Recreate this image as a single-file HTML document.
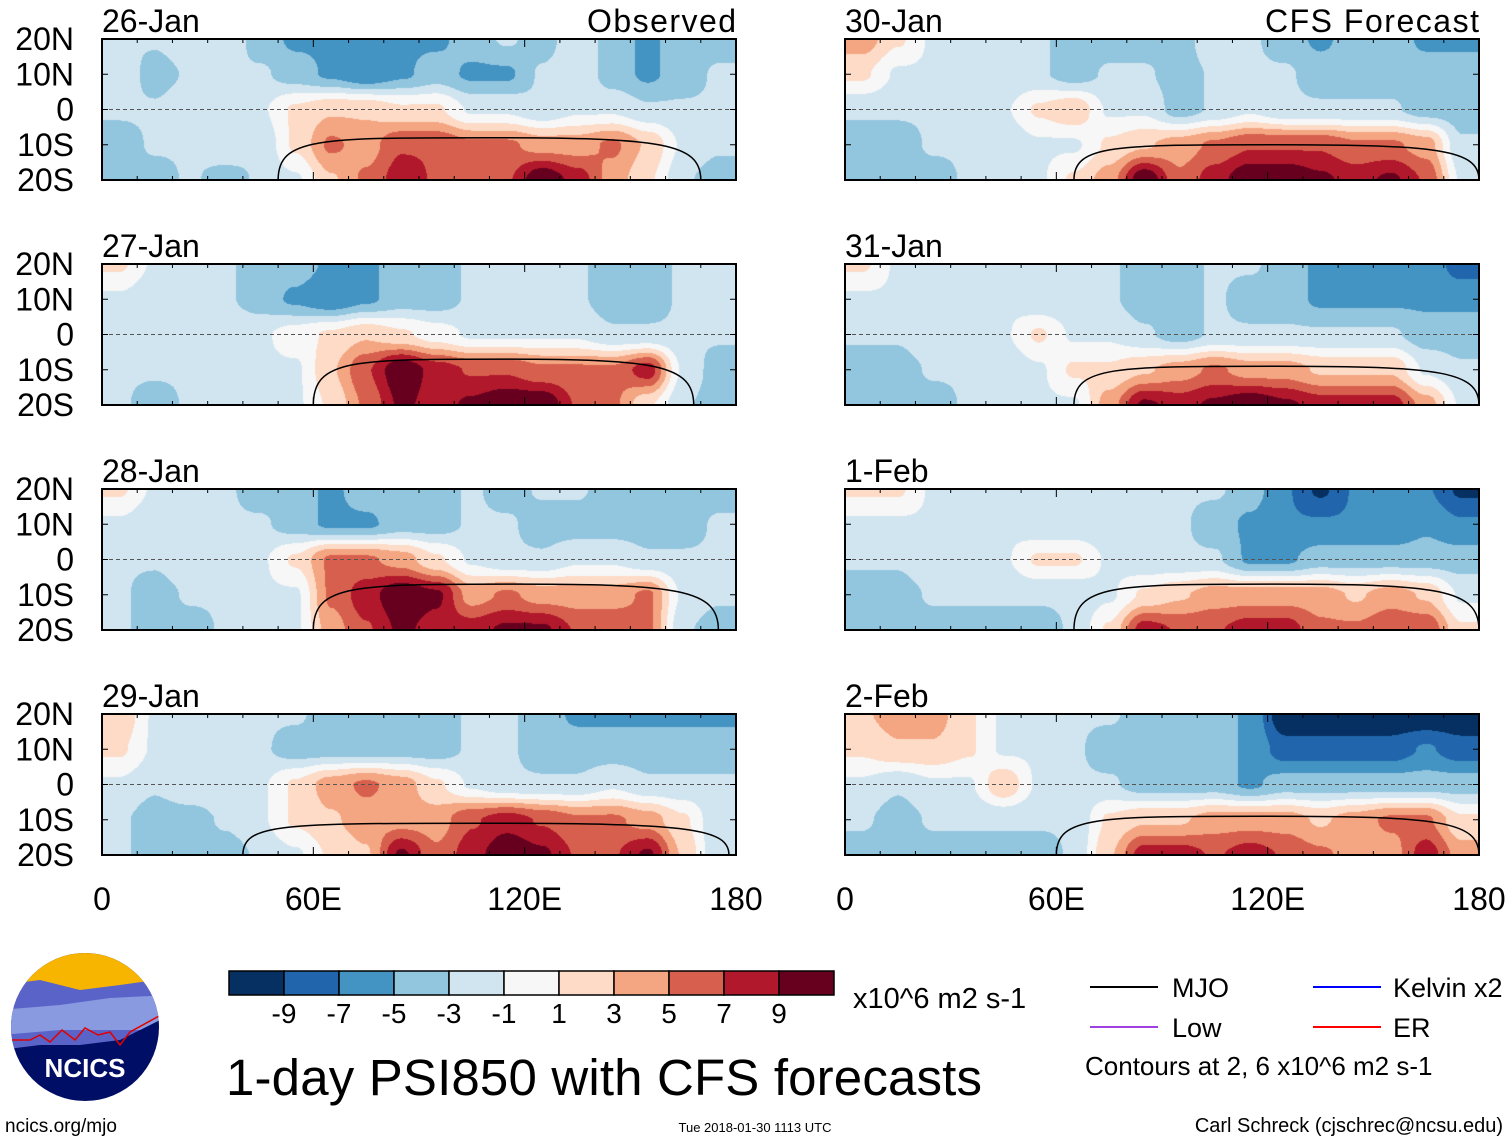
<!DOCTYPE html>
<html><head><meta charset="utf-8">
<style>
html,body{margin:0;padding:0;background:#fff;}
#wrap{position:relative;width:1510px;height:1142px;overflow:hidden;font-family:"Liberation Sans",sans-serif;}
canvas{position:absolute;}
svg{position:absolute;left:0;top:0;}
</style></head>
<body>
<div id="wrap">
<svg id="svg" width="1510" height="1142" xmlns="http://www.w3.org/2000/svg"></svg>
</div>
<script>
// ---- DATA ----
const dates = ["26-Jan","27-Jan","28-Jan","29-Jan","30-Jan","31-Jan","1-Feb","2-Feb"];
const lonCenters = [5,15,25,35,45,55,65,75,85,95,105,115,125,135,145,155,165,175];
const latRows = [20,10,0,-10,-20];
const colorLevels = [-9,-7,-5,-3,-1,1,3,5,7,9];
const colorTickLabels = ["-9","-7","-5","-3","-1","1","3","5","7","9"];
const xTickValues = [0,60,120,180];
const xTickLabels = ["0","60E","120E","180"];
const yTickValues = [20,10,0,-10,-20];
const yTickLabels = ["20N","10N","0","10S","20S"];
const psi26Jan = [
 [-2,-2,-1,-1,-3,-4,-4,-5,-4,-4,-3,-2,-3,-1,-3,-4,-3,-3],
 [-1,-3,-2,-2,-2,-3,-4,-5,-4,-3,-4,-4,-2,-1,-3,-4,-3,-2],
 [-2,-2,-1,-1,-1,1,2,2,1,1,-1,-1,-2,-1,-1,-2,-2,-2],
 [-3,-2,-2,-1,-2,1,4,3,5,5,4,4,3,3,4,2,-1,-2],
 [-3,-3,-2,-3,-2,-1,2,4,6,5,4,5,8,6,3,1,-2,-3]];
const psi27Jan = [
 [1,-1,-1,-2,-3,-3,-4,-4,-3,-3,-2,-2,-1,-2,-3,-3,-2,-2],
 [-1,-2,-2,-2,-3,-4,-5,-4,-3,-3,-2,-2,-1,-2,-3,-3,-2,-2],
 [-1,-2,-1,-1,-1,0,1,2,1,0,-1,-1,-1,-1,-2,-2,-2,-2],
 [-2,-2,-2,-2,-1,-1,2,5,8,6,5,5,4,4,4,6,-1,-3],
 [-2,-3,-2,-2,-1,-1,1,4,7,6,7,8,8,5,4,1,-2,-3]];
const psi28Jan = [
 [1,-1,-2,-2,-3,-3,-4,-3,-3,-3,-2,-3,-2,-2,-3,-3,-3,-3],
 [-1,-2,-2,-2,-2,-3,-4,-4,-3,-3,-2,-2,-3,-3,-3,-3,-3,-2],
 [-2,-2,-1,-1,-1,1,4,4,3,1,-1,-2,-2,-1,-1,-2,-2,-2],
 [-2,-3,-2,-2,-1,-1,4,6,8,7,3,4,3,3,3,4,-1,-2],
 [-2,-3,-3,-2,-1,-1,3,5,7,6,6,7,7,5,5,4,-2,-3]];
const psi29Jan = [
 [2,-1,-1,-2,-2,-2,-3,-3,-3,-3,-2,-2,-3,-4,-4,-4,-4,-4],
 [1,-1,-2,-2,-2,-3,-3,-3,-3,-3,-2,-2,-3,-3,-3,-3,-3,-3],
 [-1,-2,-1,-1,-1,1,3,4,3,1,-1,-2,-2,-2,-1,-2,-2,-2],
 [-2,-3,-3,-2,-1,1,2,3,3,3,5,6,5,4,4,3,1,-2],
 [-2,-3,-3,-3,-2,-1,1,2,7,4,6,8,7,5,5,7,2,-2]];
const psi30Jan = [
 [3,1,-1,-2,-2,-2,-3,-3,-3,-3,-1,-2,-3,-4,-3,-3,-4,-4],
 [1,-1,-1,-2,-2,-2,-3,-2,-2,-3,-2,-2,-2,-3,-3,-3,-3,-3],
 [-2,-2,-2,-1,-1,1,2,-1,-1,-3,-2,-1,-2,-2,-2,-2,-3,-3],
 [-3,-3,-2,-2,-2,-1,-1,1,2,3,4,5,5,5,4,4,3,-2],
 [-3,-3,-3,-2,-2,-1,1,3,8,4,6,8,8,7,6,7,5,-1]];
const psi31Jan = [
 [1,-1,-1,-1,-1,-1,-2,-2,-3,-3,-2,-2,-3,-4,-4,-4,-4,-6],
 [-1,-1,-1,-1,-1,-2,-2,-2,-3,-3,-2,-3,-3,-4,-4,-4,-4,-4],
 [-2,-2,-1,-1,-1,1,-1,-1,-2,-3,-2,-2,-2,-2,-2,-2,-3,-3],
 [-3,-3,-2,-2,-2,-1,1,1,2,3,4,3,3,2,2,2,-1,-2],
 [-3,-3,-3,-2,-2,-1,-1,3,7,6,7,8,7,6,6,6,3,-1]];
const psi1Feb = [
 [1,1,-1,-1,-1,-1,-2,-2,-2,-2,-2,-3,-5,-7,-5,-5,-5,-7],
 [-1,-1,-1,-1,-1,-2,-2,-2,-2,-2,-3,-4,-5,-5,-5,-5,-4,-5],
 [-2,-2,-1,-1,-1,1,1,-1,-2,-2,-2,-4,-4,-3,-3,-3,-3,-3],
 [-3,-3,-2,-2,-2,-2,-2,-1,1,2,3,3,3,3,2,3,2,-1],
 [-3,-3,-3,-3,-3,-3,-2,1,6,5,5,6,6,4,4,5,5,1]];
const psi2Feb = [
 [2,3,3,1,-1,-2,-2,-2,-3,-3,-3,-4,-8,-8,-8,-8,-8,-8],
 [1,2,2,1,-1,-1,-2,-3,-3,-3,-3,-4,-6,-6,-6,-6,-5,-6],
 [-1,-2,-1,-1,2,-1,-2,-2,-3,-3,-3,-4,-3,-3,-3,-3,-3,-3],
 [-2,-3,-2,-2,-2,-2,-2,1,2,2,3,3,3,2,3,4,4,1],
 [-3,-3,-3,-3,-3,-3,-2,2,6,6,5,6,5,4,3,3,6,3]];
const fields = [psi26Jan,psi27Jan,psi28Jan,psi29Jan,psi30Jan,psi31Jan,psi1Feb,psi2Feb];
const mjoStart = [50,60,60,40,65,65,65,60];
const mjoEnd   = [170,168,175,178,180,180,180,180];
const mjoLat   = [-8,-7,-7,-11,-10,-9,-7,-9];

// ---- LAYOUT ----
const colors = ["#053061","#2166ac","#4393c3","#92c5de","#d1e5f0","#f7f7f7","#fddbc7","#f4a582","#d6604d","#b2182b","#67001f"];
const PW = 634, PH = 141;
const lefts = [102,845];
const tops = [39,264,489,714];
const AMP = 1.35;
const NS = "http://www.w3.org/2000/svg";
const svg = document.getElementById('svg');
const wrap = document.getElementById('wrap');
function mk(tag, attrs, parent){
  const e = document.createElementNS(NS, tag);
  for (const k in attrs) e.setAttribute(k, attrs[k]);
  (parent||svg).appendChild(e); return e;
}
function txt(x,y,s,size,anchor,name,parent){
  const t = mk('text',{x:x,y:y,'font-size':size,'text-anchor':anchor||'start','font-family':'Liberation Sans, sans-serif',fill:'#000'},parent);
  t.textContent = s;
  
  
  return t;
}
function sample(f, lon, lat){
  let fx = (lon - 5)/10; fx = Math.max(0, Math.min(17, fx));
  let fy = (20 - lat)/10; fy = Math.max(0, Math.min(4, fy));
  const x0 = Math.floor(fx), x1 = Math.min(17, x0+1), y0 = Math.floor(fy), y1 = Math.min(4, y0+1);
  const tx = fx - x0, ty = fy - y0;
  const sx = tx*tx*(3-2*tx), sy = ty*ty*(3-2*ty);
  const a = f[y0][x0]*(1-sx)+f[y0][x1]*sx, b = f[y1][x0]*(1-sx)+f[y1][x1]*sx;
  return a*(1-sy)+b*sy;
}
function hex(c){return [parseInt(c.substr(1,2),16),parseInt(c.substr(3,2),16),parseInt(c.substr(5,2),16)];}
const rgb = colors.map(hex);

for (let p = 0; p < 8; p++){
  const col = p < 4 ? 0 : 1, row = p % 4;
  const L = lefts[col], T = tops[row];
  const xs = lon => L + lon/180*PW;
  const ys = lat => T + (20-lat)/40*PH;
  const g = mk('g',{});
  
  
  const cv = document.createElement('canvas');
  cv.width = PW; cv.height = PH;
  cv.style.left = L+'px'; cv.style.top = T+'px';
  
  
  wrap.insertBefore(cv, svg);
  const ctx = cv.getContext('2d');
  const img = ctx.createImageData(PW, PH);
  const f = fields[p];
  for (let y = 0; y < PH; y++){
    const lat = 20 - (y+0.5)/PH*40;
    for (let x = 0; x < PW; x++){
      const lon = (x+0.5)/PW*180;
      const v = sample(f, lon, lat)*AMP + 0.01;
      let i = 0; while (i < colorLevels.length && v >= colorLevels[i]) i++;
      const c = rgb[i], o = (y*PW+x)*4;
      img.data[o]=c[0]; img.data[o+1]=c[1]; img.data[o+2]=c[2]; img.data[o+3]=255;
    }
  }
  ctx.putImageData(img,0,0);
  const eq = mk('line',{x1:L,x2:L+PW,y1:ys(0),y2:ys(0),stroke:'#555','stroke-width':1,'stroke-dasharray':'4,3'},g);
   
  const x1 = xs(mjoStart[p]), x2 = xs(mjoEnd[p]), yt = ys(mjoLat[p]), yb = ys(-20);
  const mjo = mk('path',{d:`M${x1},${yb} C${x1},${yt} ${x1+40},${yt} ${(x1+x2)/2},${yt} S${x2},${yt+5} ${x2},${yb}`,fill:'none',stroke:'#000','stroke-width':1.5},g);
   
  const fr = mk('rect',{x:L,y:T,width:PW,height:PH,fill:'none',stroke:'#000','stroke-width':2},g);
   
  for (let lon = 0; lon <= 180; lon += 10){
    const len = lon % 60 === 0 ? 8 : 4;
    mk('line',{x1:xs(lon),x2:xs(lon),y1:T,y2:T+len,stroke:'#000','stroke-width':1},g);
    mk('line',{x1:xs(lon),x2:xs(lon),y1:T+PH,y2:T+PH-len,stroke:'#000','stroke-width':1},g);
  }
  for (let k = 0; k < yTickValues.length; k++){
    const y = ys(yTickValues[k]);
    mk('line',{x1:L,x2:L+6,y1:y,y2:y,stroke:'#000','stroke-width':1},g);
    mk('line',{x1:L+PW,x2:L+PW-6,y1:y,y2:y,stroke:'#000','stroke-width':1},g);
    if (col === 0) txt(74, y+11, yTickLabels[k], 32, 'end', 'y-tick-label', g);
  }
  txt(L, T-7, dates[p], 32, 'start', 'panel-date-title', g);
  if (row === 0){
    const t = txt(L+PW, T-7, col === 0 ? 'Observed' : 'CFS Forecast', 32, 'end', 'panel-source-title', g);
    t.setAttribute('textLength', col === 0 ? 149 : 214);
  }
  if (row === 3){
    for (let k = 0; k < xTickValues.length; k++)
      txt(xs(xTickValues[k]), 910, xTickLabels[k], 32, 'middle', 'x-tick-label', g);
  }
}

const cb = mk('g',{});  
for (let i = 0; i < colors.length; i++){
  const r = mk('rect',{x:229+i*55,y:971,width:55,height:24,fill:colors[i],stroke:'#000','stroke-width':1.5},cb);
   
}
for (let i = 0; i < colorTickLabels.length; i++) txt(284+i*55, 1023, colorTickLabels[i], 28, 'middle', 'colorbar-label', cb);
txt(853, 1008, 'x10^6 m2 s-1', 29, 'start', 'colorbar-units');
const title = txt(226, 1095, '1-day PSI850 with CFS forecasts', 51, 'start', 'chart-title');
title.setAttribute('textLength', 756);
txt(5, 1132, 'ncics.org/mjo', 19, 'start', 'website-link');
txt(755, 1132, 'Tue 2018-01-30 1113 UTC', 13, 'middle', 'timestamp');
txt(1503, 1132, 'Carl Schreck (cjschrec@ncsu.edu)', 20, 'end', 'author-credit');
txt(1085, 1075, 'Contours at 2, 6 x10^6 m2 s-1', 26, 'start', 'contour-note');
const lg = mk('g',{});  
const legItems = [["MJO","#000",1090,987,1172],["Kelvin x2","#0000ff",1313,987,1393],["Low","#a040e0",1090,1027,1172],["ER","#ff0000",1313,1027,1393]];
legItems.forEach(it=>{
  const l = mk('line',{x1:it[2],x2:it[2]+68,y1:it[3],y2:it[3],stroke:it[1],'stroke-width':2},lg);
   
  txt(it[4], it[3]+10, it[0], 27, 'start', 'legend-entry', lg);
});
const logo = mk('g',{});  
const defs = mk('defs',{});
const cp = mk('clipPath',{id:'lc'},defs); mk('circle',{cx:85,cy:1027,r:74},cp);
const lgClip = mk('g',{'clip-path':'url(#lc)'},logo);
mk('rect',{x:0,y:950,width:170,height:160,fill:'#000e66'},lgClip);
mk('rect',{x:0,y:950,width:170,height:40,fill:'#f7b500'},lgClip);
mk('path',{d:'M0,985 L40,980 L80,990 L120,985 L170,978 L170,1015 L120,1040 L80,1045 L40,1045 L0,1050 Z',fill:'#5a64c8'},lgClip);
mk('path',{d:'M0,1010 L60,1005 L110,998 L170,995 L170,1015 L140,1030 L60,1030 L0,1035 Z',fill:'#8a9ae0'},lgClip);
mk('path',{d:'M0,1040 L30,1040 L40,1035 L50,1042 L62,1030 L75,1040 L85,1028 L98,1035 L110,1032 L120,1045 L130,1032 L170,1010',fill:'none',stroke:'#e00000','stroke-width':1.5},lgClip);
const lt = txt(85, 1077, 'NCICS', 26, 'middle', 'logo-text', logo);
lt.setAttribute('fill','#fff'); lt.setAttribute('font-weight','bold');
</script>
</body></html>
